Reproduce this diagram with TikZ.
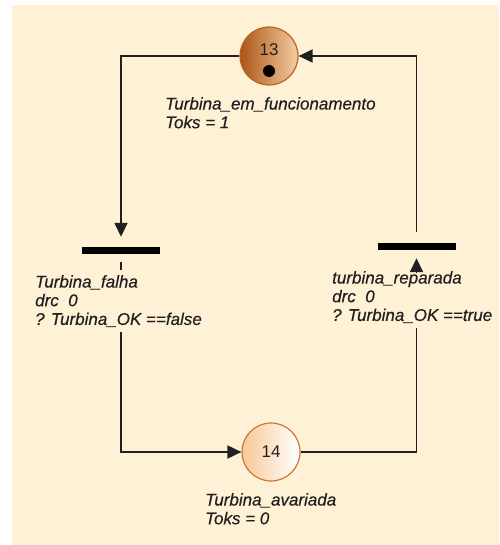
\documentclass[tikz,border=0pt]{standalone}
\usepackage{fontspec}
\setmainfont{Liberation Sans}
\newfontfamily\lblfont{Liberation Sans}[FakeBold=0.35]
\usetikzlibrary{arrows.meta}

\definecolor{paper}{RGB}{254,241,214}
\definecolor{placedark}{RGB}{172,86,24}
\definecolor{placelight}{RGB}{244,206,160}
\definecolor{placeedge}{RGB}{186,100,34}
\definecolor{idlelight}{RGB}{248,200,150}
\definecolor{idleedge}{RGB}{204,120,52}
\definecolor{ink}{RGB}{32,32,32}

\begin{document}
\begin{tikzpicture}[x=1pt,y=-1pt,
  place/.style={circle, minimum size=58pt, inner sep=0pt, line width=1.2pt},
  bar/.style={rectangle, fill=black, minimum width=78pt, minimum height=7pt, inner sep=0pt},
  arc/.style={draw=ink, line width=1.8pt},
  tip/.style={-{Triangle[length=14pt,width=13pt]}},
  lbl/.style={font=\lblfont\fontsize{17}{18.7}\selectfont\itshape, text=ink, align=left,
              anchor=north west, inner xsep=1pt, inner ysep=5pt, fill=paper},
  num/.style={font=\fontsize{17}{17}\selectfont, text=ink, inner sep=0pt}]

\useasboundingbox (0,0) rectangle (499,545);
\fill[white] (0,0) rectangle (499,545);
\fill[paper] (12,5) rectangle (499,545);

% places
\node[place, draw=placeedge, left color=placedark, right color=placelight] (p13) at (269,56) {};
\node[place, draw=idleedge, left color=idlelight, right color=white] (p14) at (271,452) {};
\node[num] (n13) at (269,50) {13};
\node[circle, fill=black, minimum size=12pt, inner sep=0pt] (tok) at (269,71) {};
\node[num] (n14) at (271,452) {14};

% transitions
\node[bar] (t1) at (121,250.5) {};
\node[bar] (t2) at (416.5,246.5) {};

% arcs
\draw[arc, tip, shorten >=10pt] (p13.west) -| (t1.north);
\draw[arc, tip, shorten <=11pt] (t2.north) |- (p13.east);
\draw[arc, tip, shorten <=8pt] (t1.south) |- (p14.west);
\coordinate (t2in) at (416.5,272);
\draw[arc] (p14.east) -| (t2in);

% labels
\node[lbl] (l13) at (164,92) {Turbina\_em\_funcionamento\\Toks = 1};
\node[lbl] (lt1) at (34,270) {Turbina\_falha\\drc\ \ 0\\? Turbina\_OK ==false};
\node[lbl] (lt2) at (331,266) {turbina\_reparada\\drc\ \ 0\\? Turbina\_OK ==true};
\node[lbl] (l14) at (204,488) {Turbina\_avariada\\Toks = 0};

% arrow head of the last arc sits on top of its label
\draw[arc, tip, shorten >=8pt] (t2in) -- (t2.south);
\end{tikzpicture}
\end{document}
